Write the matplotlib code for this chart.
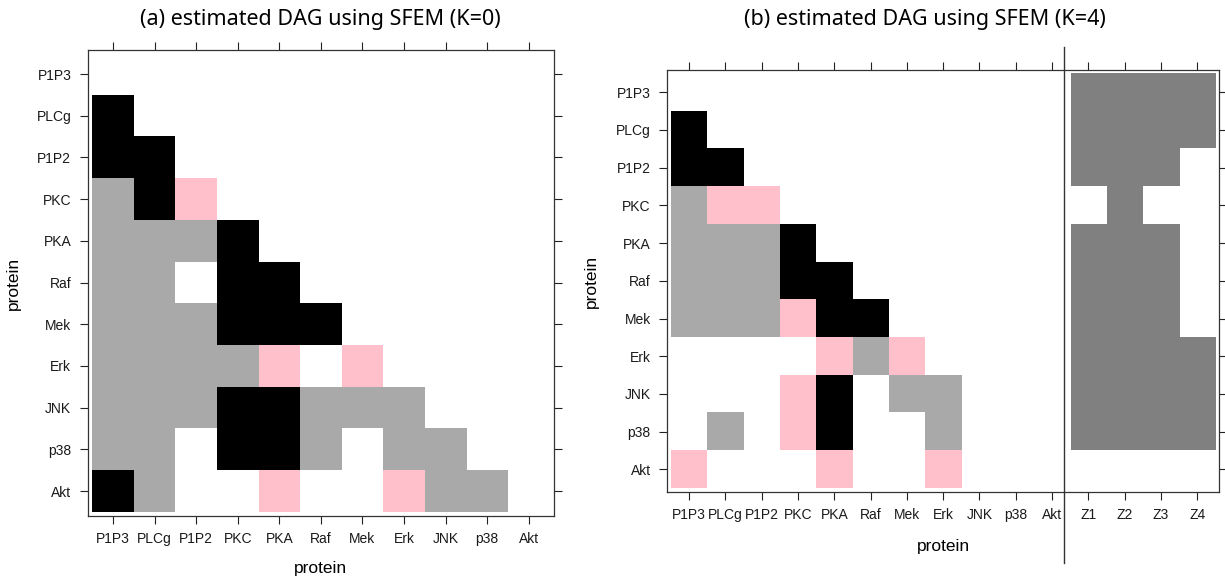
import numpy as np
import matplotlib
matplotlib.use('Agg')
import matplotlib.pyplot as plt
from matplotlib.colors import ListedColormap

plt.rcParams.update({'font.family': 'Liberation Sans'})

proteins = ['P1P3', 'PLCg', 'P1P2', 'PKC', 'PKA', 'Raf', 'Mek', 'Erk', 'JNK', 'p38', 'Akt']
latent = ['Z1', 'Z2', 'Z3', 'Z4']

# 0 = none, 1 = grey, 2 = black, 3 = pink
dag_k0 = [
    [0, 0, 0, 0, 0, 0, 0, 0, 0, 0, 0],
    [2, 0, 0, 0, 0, 0, 0, 0, 0, 0, 0],
    [2, 2, 0, 0, 0, 0, 0, 0, 0, 0, 0],
    [1, 2, 3, 0, 0, 0, 0, 0, 0, 0, 0],
    [1, 1, 1, 2, 0, 0, 0, 0, 0, 0, 0],
    [1, 1, 0, 2, 2, 0, 0, 0, 0, 0, 0],
    [1, 1, 1, 2, 2, 2, 0, 0, 0, 0, 0],
    [1, 1, 1, 1, 3, 0, 3, 0, 0, 0, 0],
    [1, 1, 1, 2, 2, 1, 1, 1, 0, 0, 0],
    [1, 1, 0, 2, 2, 1, 0, 1, 1, 0, 0],
    [2, 1, 0, 0, 3, 0, 0, 3, 1, 1, 0],
]

dag_k4 = [
    [0, 0, 0, 0, 0, 0, 0, 0, 0, 0, 0],
    [2, 0, 0, 0, 0, 0, 0, 0, 0, 0, 0],
    [2, 2, 0, 0, 0, 0, 0, 0, 0, 0, 0],
    [1, 3, 3, 0, 0, 0, 0, 0, 0, 0, 0],
    [1, 1, 1, 2, 0, 0, 0, 0, 0, 0, 0],
    [1, 1, 1, 2, 2, 0, 0, 0, 0, 0, 0],
    [1, 1, 1, 3, 2, 2, 0, 0, 0, 0, 0],
    [0, 0, 0, 0, 3, 1, 3, 0, 0, 0, 0],
    [0, 0, 0, 3, 2, 0, 1, 1, 0, 0, 0],
    [0, 1, 0, 3, 2, 0, 0, 1, 0, 0, 0],
    [3, 0, 0, 0, 3, 0, 0, 3, 0, 0, 0],
]

# latent variable edges (1 = present)
z_edges = [
    [1, 1, 1, 1],
    [1, 1, 1, 1],
    [1, 1, 1, 0],
    [0, 1, 0, 0],
    [1, 1, 1, 0],
    [1, 1, 1, 0],
    [1, 1, 1, 0],
    [1, 1, 1, 1],
    [1, 1, 1, 1],
    [1, 1, 1, 1],
    [0, 0, 0, 0],
]

cmap = ListedColormap(['white', '#a9a9a9', 'black', '#ffc0cb', '#808080'])
W, H = 1225, 583
fig = plt.figure(figsize=(W / 100, H / 100), dpi=100)


def style_axes(ax, xlabels):
    for s in ax.spines.values():
        s.set_color('#333333')
        s.set_linewidth(0.9)
    ax.set_xticks(range(len(xlabels)))
    ax.set_xticklabels(xlabels)
    ax.set_yticks(range(len(proteins)))
    ax.set_yticklabels(proteins)
    ax.tick_params(direction='out', length=6, width=0.8, color='#222222',
                   top=True, right=True, labeltop=False, labelright=False,
                   labelsize=10, labelcolor='#1a1a1a', pad=6)


# (a)
ax1 = fig.add_axes([88 / W, 1 - 515.7 / H, 465.7 / W, 465.4 / H])
ax1.imshow(np.array(dag_k0), cmap=cmap, vmin=-0.5, vmax=4.5,
           interpolation='nearest', aspect='auto')
ax1.set_xlim(-0.6, 10.6)
ax1.set_ylim(10.59, -0.57)
style_axes(ax1, proteins)
ax1.set_xlabel('protein', fontsize=12.5, va='center')
ax1.xaxis.set_label_coords(0.5, (515.7 - 568) / 465.4)
ax1.set_ylabel('protein', fontsize=12.5, va='center')
ax1.yaxis.set_label_coords((13 - 88) / 465.7, 0.5)

# (b)
full = np.hstack([np.array(dag_k4), np.array(z_edges) * 4])
ax2 = fig.add_axes([667.3 / W, 1 - 491.7 / H, 551.7 / W, 421.4 / H])
ax2.imshow(full, cmap=cmap, vmin=-0.5, vmax=4.5,
           interpolation='nearest', aspect='auto')
ax2.set_xlim(-0.6, 14.6)
ax2.set_ylim(10.59, -0.58)
style_axes(ax2, proteins + latent)
ax2.axvline(10.33, ymin=-0.169, ymax=1.056, color='#333333', lw=1, clip_on=False)
ax2.set_xlabel('protein', fontsize=12.5, va='center')
ax2.xaxis.set_label_coords(0.5, (491.7 - 547) / 421.4)
ax2.set_ylabel('protein', fontsize=12.5, va='center')
ax2.yaxis.set_label_coords((591 - 667.3) / 551.7, 0.5)

fig.text(320.5 / W, 1 - 19 / H, '(a) estimated DAG using SFEM (K=0)',
         ha='center', va='center', fontsize=15.5, family='Noto Sans')
fig.text(925 / W, 1 - 19 / H, '(b) estimated DAG using SFEM (K=4)',
         ha='center', va='center', fontsize=15.5, family='Noto Sans')

fig.savefig('out.png', dpi=100)
